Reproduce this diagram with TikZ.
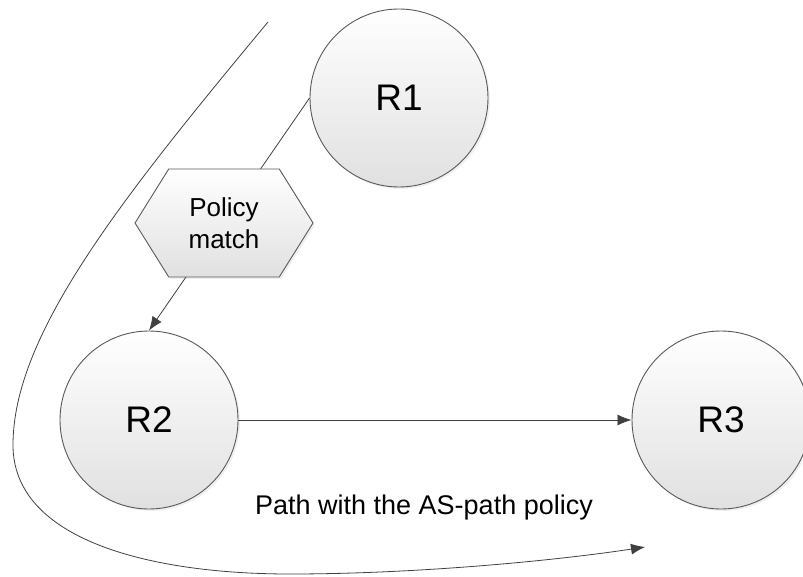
\documentclass[tikz,border=0pt]{standalone}
\usepackage{fontspec}
\setmainfont{Liberation Sans}
\usetikzlibrary{arrows.meta,shapes.symbols,shadows}

\tikzset{
  router/.style={circle, draw=black!65, line width=0.9pt, minimum size=178pt,
    top color=white, bottom color=black!12, inner sep=0pt,
    drop shadow={opacity=0.12, shadow xshift=2pt, shadow yshift=-2pt},
    font=\fontsize{37}{44}\selectfont},
  policy/.style={signal, signal to=west and east, signal pointer angle=116,
    draw=black!65, line width=0.9pt, top color=white, bottom color=black!12,
    minimum width=178pt, minimum height=108pt, inner sep=0pt, align=center,
    drop shadow={opacity=0.12, shadow xshift=2pt, shadow yshift=-2pt},
    font=\fontsize{26}{32}\selectfont},
  link/.style={draw=black!75, line width=0.8pt, -{Latex[length=14pt,width=11pt]}}
}

\begin{document}
\begin{tikzpicture}[x=1pt,y=-1pt]
  \useasboundingbox (0,0) rectangle (803,577);
  \clip (0,0) rectangle (803,577);
  % routers
  \node[router] (r1) at (399,98) {R1};
  \node[router] (r2) at (149,420) {R2};
  \node[router] (r3) at (721,420) {R3};
  % links
  \draw[link] (r1.west) -- (r2.north);
  \draw[link] (r2.east) -- (r3.west);
  \node[policy] (match) at (224,223) {Policy\\match};
  % path taken with the policy
  \coordinate (pstart) at (268,22);
  \coordinate (pend) at (645,547);
  \draw[link] (pstart) .. controls (120,200) and (13,335) .. (13,445)
    .. controls (13,540) and (150,574) .. (290,574)
    .. controls (420,574) and (560,560) .. (pend);
  \node[font=\fontsize{27}{32}\selectfont] (plabel) at (424,508) {Path with the AS-path policy};
\end{tikzpicture}
\end{document}
